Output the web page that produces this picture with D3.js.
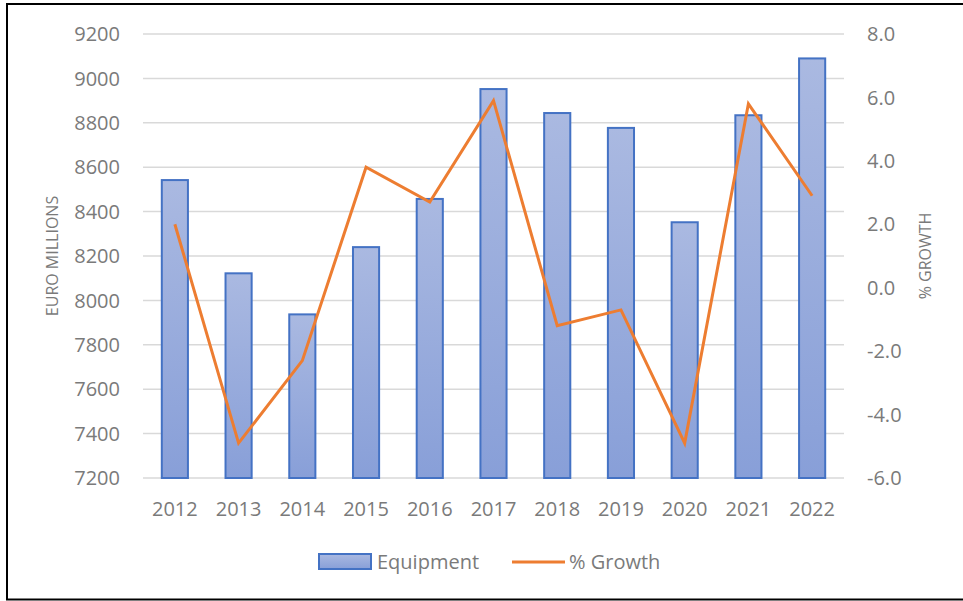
<!DOCTYPE html>
<meta charset="utf-8">
<head>
  <title>Equipment</title>
  <script src="https://d3js.org/d3.v7.min.js"></script>
  <style>
    body { margin: 0; background: #fff; }
    text { font-family: "Open Sans", sans-serif; fill: #7a7a7a; }
    .grid line { stroke: #d9d9d9; stroke-width: 1.5; }
  </style>
</head>
<body>
<div id="chart"></div>
<script>

// data
var years = ["2012","2013","2014","2015","2016","2017","2018","2019","2020","2021","2022"];
var equipment = [8542, 8122, 7937, 8240, 8457, 8952, 8844, 8777, 8352, 8834, 9090];
var growth = [2.0, -4.9, -2.3, 3.8, 2.7, 5.9, -1.2, -0.7, -4.9, 5.8, 2.9];
var leftTicks = [7200, 7400, 7600, 7800, 8000, 8200, 8400, 8600, 8800, 9000, 9200];
var rightTicks = [-6, -4, -2, 0, 2, 4, 6, 8];

var W = 963, H = 601;
var plot = {left: 143, right: 844, top: 34, bottom: 478};

var svg = d3.select("#chart").append("svg")
    .attr("width", W)
    .attr("height", H);

// bar gradient (per bar)
var grad = svg.append("defs").append("linearGradient")
    .attr("id", "barGrad")
    .attr("x1", 0).attr("y1", 0).attr("x2", 0).attr("y2", 1);
grad.append("stop").attr("offset", "0%").attr("stop-color", "#aab9e1");
grad.append("stop").attr("offset", "100%").attr("stop-color", "#889fd8");

// outer frame
svg.append("rect")
    .attr("x", 7).attr("y", 4)
    .attr("width", W).attr("height", 595.5)
    .attr("fill", "none")
    .attr("stroke", "#000")
    .attr("stroke-width", 2);

// scales
var x = d3.scaleBand()
    .domain(years)
    .range([plot.left, plot.right])
    .paddingInner(0.59)
    .paddingOuter(0.295);

var y = d3.scaleLinear()
    .domain([7200, 9200])
    .range([plot.bottom, plot.top]);

var y2 = d3.scaleLinear()
    .domain([-6, 8])
    .range([plot.bottom, plot.top]);

// gridlines
svg.append("g")
    .attr("class", "grid")
    .selectAll("line")
    .data(leftTicks)
    .enter().append("line")
      .attr("x1", plot.left)
      .attr("x2", plot.right)
      .attr("y1", function(d) { return y(d); })
      .attr("y2", function(d) { return y(d); });

// left axis labels
svg.append("g")
    .selectAll("text")
    .data(leftTicks)
    .enter().append("text")
      .attr("x", 120)
      .attr("y", function(d) { return y(d); })
      .attr("dy", "0.36em")
      .attr("text-anchor", "end")
      .style("font-size", "20px")
      .text(function(d) { return d; });

// right axis labels
svg.append("g")
    .selectAll("text")
    .data(rightTicks)
    .enter().append("text")
      .attr("x", 867)
      .attr("y", function(d) { return y2(d); })
      .attr("dy", "0.36em")
      .attr("text-anchor", "start")
      .style("font-size", "20px")
      .text(function(d) { return d.toFixed(1); });

// x labels
svg.append("g")
    .selectAll("text")
    .data(years)
    .enter().append("text")
      .attr("x", function(d) { return x(d) + x.bandwidth() / 2; })
      .attr("y", 516)
      .attr("text-anchor", "middle")
      .style("font-size", "20px")
      .text(function(d) { return d; });

// axis titles
svg.append("text")
    .attr("transform", "translate(58," + (plot.top + plot.bottom) / 2 + ") rotate(-90)")
    .attr("text-anchor", "middle")
    .style("font-size", "16px")
    .text("EURO MILLIONS");

svg.append("text")
    .attr("transform", "translate(931," + (plot.top + plot.bottom) / 2 + ") rotate(-90)")
    .attr("text-anchor", "middle")
    .style("font-size", "16px")
    .text("% GROWTH");

// bars
svg.append("g")
    .selectAll("rect")
    .data(years)
    .enter().append("rect")
      .attr("x", function(d) { return x(d); })
      .attr("y", function(d, i) { return y(equipment[i]); })
      .attr("width", x.bandwidth())
      .attr("height", function(d, i) { return plot.bottom - y(equipment[i]); })
      .attr("fill", "url(#barGrad)")
      .attr("stroke", "#4472c4")
      .attr("stroke-width", 2);

// growth line
var line = d3.line()
    .x(function(d, i) { return x(years[i]) + x.bandwidth() / 2; })
    .y(function(d) { return y2(d); });

svg.append("path")
    .datum(growth)
    .attr("d", line)
    .attr("fill", "none")
    .attr("stroke", "#ed7d31")
    .attr("stroke-width", 3)
    .attr("stroke-linejoin", "miter");

// legend
var legend = svg.append("g");
legend.append("rect")
    .attr("x", 319).attr("y", 554)
    .attr("width", 52).attr("height", 15)
    .attr("fill", "url(#barGrad)")
    .attr("stroke", "#4472c4")
    .attr("stroke-width", 2);
legend.append("text")
    .attr("x", 377).attr("y", 569)
    .style("font-size", "20px")
    .text("Equipment");
legend.append("line")
    .attr("x1", 512).attr("x2", 565)
    .attr("y1", 562).attr("y2", 562)
    .attr("stroke", "#ed7d31")
    .attr("stroke-width", 3);
legend.append("text")
    .attr("x", 569).attr("y", 569)
    .style("font-size", "20px")
    .text("% Growth");

</script>
</body>
</html>
